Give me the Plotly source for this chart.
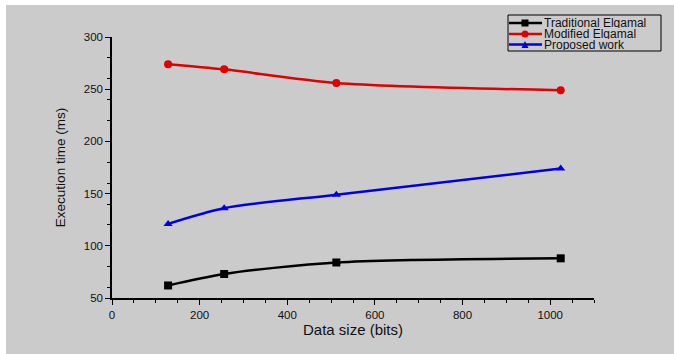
import plotly.graph_objects as go

data_size = [128, 256, 512, 1024]
traditional = [62, 73, 84, 88]
modified = [274, 269, 256, 249]
proposed = [121, 136, 149, 174]

series = [
    ("Traditional Elgamal", traditional, "#000000", "square"),
    ("Modified Elgamal", modified, "#e00000", "circle"),
    ("Proposed work", proposed, "#0000e0", "triangle-up"),
]

W, H = 674, 354
L, R, T, B = 112, 80, 37, 56
PW, PH = W - L - R, H - T - B


def px(x):
    return (x - L) / PW


def py(y):
    return (H - B - y) / PH


fig = go.Figure()
for name, ys, color, sym in series:
    fig.add_trace(go.Scatter(
        x=data_size, y=ys, name=name, mode="lines+markers",
        line=dict(color=color, width=2.5, shape="spline", smoothing=0.8),
        marker=dict(symbol=sym, size=8, color=color),
        showlegend=False,
    ))

BG = "#cbcbcb"
FONT = "Liberation Sans, Arial"
axis_common = dict(
    showline=True, linecolor="#000000", linewidth=1.5, mirror=False,
    ticks="outside", ticklen=5, tickwidth=1.2, tickcolor="#000000",
    showgrid=False, zeroline=False,
    tickfont=dict(family=FONT, size=11.5, color="#111111"),
    minor=dict(ticks="outside", ticklen=3, tickwidth=1.2, tickcolor="#000000", showgrid=False),
)

shapes = [
    # gray picture area leaving a thin white border at top and left
    dict(type="rect", xref="paper", yref="paper", x0=px(6), x1=px(W + 10), y0=py(H + 10), y1=py(5),
         fillcolor=BG, line=dict(width=0), layer="below"),
    # legend box
    dict(type="rect", xref="paper", yref="paper", x0=px(508), x1=px(661), y0=py(51), y1=py(15),
         fillcolor=BG, line=dict(color="#000000", width=1), layer="above"),
]
annotations = []
row_y = [23, 34, 44.5]
for (name, ys, color, sym), ry in zip(series, row_y):
    shapes.append(dict(type="line", xref="paper", yref="paper", x0=px(509), x1=px(542), y0=py(ry), y1=py(ry),
                       line=dict(color=color, width=2.5), layer="above"))
    mx, s = 525, 3.5
    if sym == "square":
        shapes.append(dict(type="rect", xref="paper", yref="paper", x0=px(mx - s), x1=px(mx + s),
                           y0=py(ry + s), y1=py(ry - s), fillcolor=color, line=dict(width=0), layer="above"))
    elif sym == "circle":
        shapes.append(dict(type="circle", xref="paper", yref="paper", x0=px(mx - s), x1=px(mx + s),
                           y0=py(ry + s), y1=py(ry - s), fillcolor=color, line=dict(width=0), layer="above"))
    else:
        shapes.append(dict(type="path", xref="paper", yref="paper",
                           path=f"M {px(mx - s)} {py(ry + s)} L {px(mx + s)} {py(ry + s)} L {px(mx)} {py(ry - s)} Z",
                           fillcolor=color, line=dict(width=0), layer="above"))
    annotations.append(dict(text=name, xref="paper", yref="paper", x=px(543), y=py(ry),
                            xanchor="left", yanchor="middle", showarrow=False,
                            height=10, borderpad=0, valign="middle",
                            font=dict(family=FONT, size=12, color="#111111")))

fig.update_layout(
    width=W, height=H,
    margin=dict(l=L, r=R, t=T, b=B, pad=0, autoexpand=False),
    paper_bgcolor="white", plot_bgcolor=BG,
    showlegend=False,
    xaxis=dict(
        range=[0, 1100], tickvals=[0, 200, 400, 600, 800, 1000],
        title=dict(text="Data size (bits)", font=dict(family=FONT, size=15, color="#111111"), standoff=5),
        **axis_common,
    ),
    yaxis=dict(
        range=[50, 300], tickvals=[50, 100, 150, 200, 250, 300],
        title=dict(text="Execution time (ms)", font=dict(family=FONT, size=13.5, color="#111111"), standoff=15),
        **axis_common,
    ),
    shapes=shapes,
    annotations=annotations,
)

fig.write_html("out.html", config={"displayModeBar": False},
               post_script="document.body.style.margin='0px';document.body.style.overflow='hidden';")
